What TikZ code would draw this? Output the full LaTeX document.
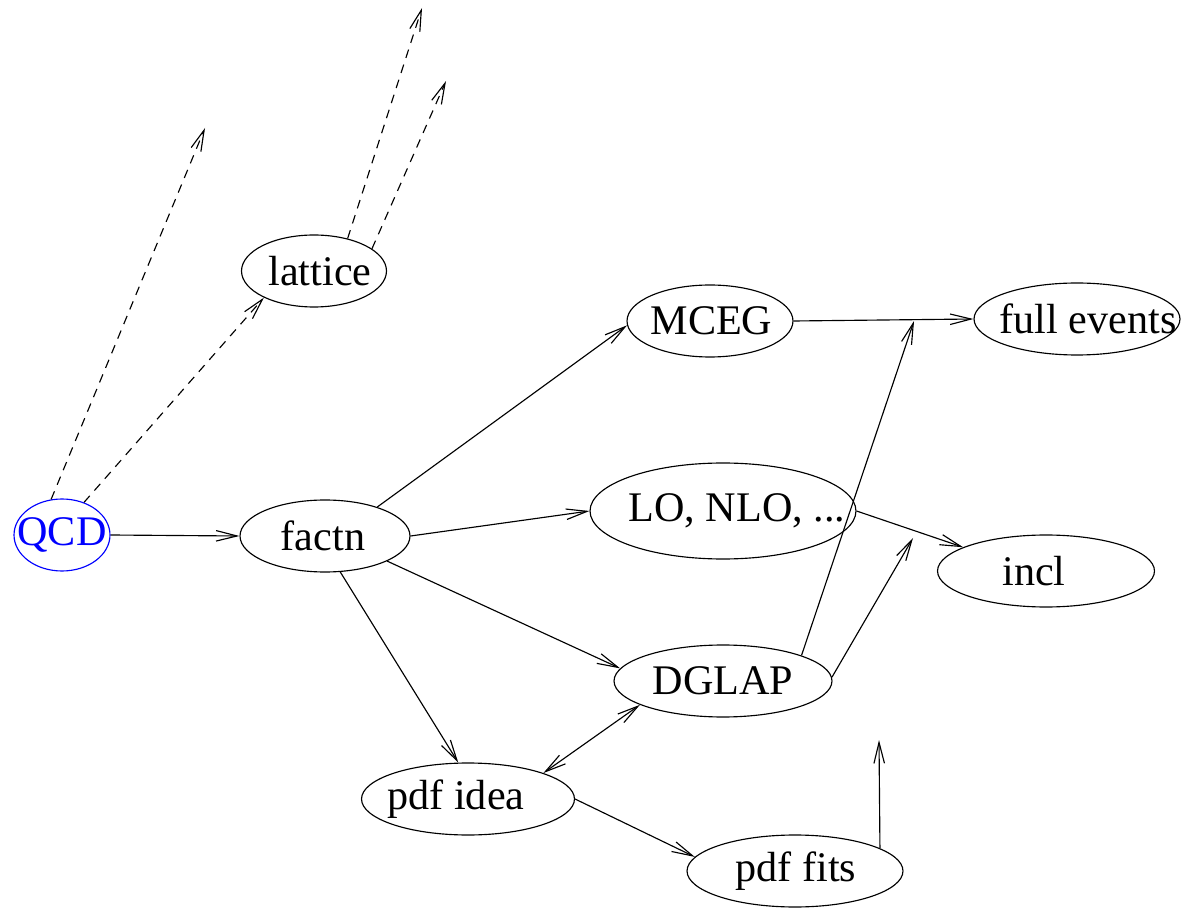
\documentclass[tikz,border=0pt]{standalone}
\usepackage{fontspec}
\setmainfont{Liberation Serif}
\usetikzlibrary{shapes.geometric,arrows.meta}
\definecolor{qblue}{RGB}{0,0,255}
\newcommand\tx[2]{\makebox[0pt]{\hspace{#1cm}#2}}
\begin{document}
\begin{tikzpicture}[x=0.02cm, y=-0.02cm,
  every path/.style={line width=0.65pt},
  >={Straight Barb[length=0.42cm, width=0.21cm]},
  ell/.style={draw, ellipse, inner sep=0pt, minimum height=1.44cm,
    font=\fontsize{24}{28}\selectfont},
  conn/.style={->},
  dconn/.style={->, dash pattern=on 5pt off 4pt}]
\useasboundingbox (0,0) rectangle (1196,911);

\node[ell, draw=qblue, text=qblue, minimum width=1.92cm] (QCD) at (62,535) {\tx{0}{QCD}};
\node[ell, minimum width=3.40cm] (factn) at (325,536) {\tx{-0.08}{factn}};
\node[ell, minimum width=2.90cm] (lattice) at (314,271) {\tx{0.24}{lattice}};
\node[ell, minimum width=3.32cm] (MCEG) at (710,321) {\tx{0.06}{MCEG}};
\node[ell, minimum width=4.12cm] (full) at (1077,319) {\tx{0.44}{full events}};
\node[ell, minimum width=5.32cm, minimum height=1.92cm] (LO) at (723,511) {\tx{0.56}{LO, NLO, ...}};
\node[ell, minimum width=4.34cm] (incl) at (1046,571) {\tx{-0.48}{incl}};
\node[ell, minimum width=4.36cm] (DGLAP) at (723,681) {\tx{0}{DGLAP}};
\node[ell, minimum width=4.26cm] (idea) at (468,799) {\tx{-0.48}{pdf idea}};
\node[ell, minimum width=4.32cm] (fits) at (795,871) {\tx{0.04}{pdf fits}};

\coordinate (qcdup) at (205,128);
\coordinate (latA) at (422,8);
\coordinate (latB) at (446,81);
\coordinate (j1) at (914,321);
\coordinate (j2) at (913,538);
\coordinate (fitsup) at (879,740);

% dashed connectors
\draw[dconn] (QCD.56) -- (lattice.208);
\draw[dconn] (QCD.107) -- (qcdup);
\draw[dconn] (lattice.44) -- (latA);
\draw[dconn] (lattice.21) -- (latB);

% solid connectors
\draw[conn] (QCD.east) -- (factn.west);
\draw[conn] (factn.29) -- (MCEG.183);
\draw[conn] (factn.east) -- (LO.west);
\draw[conn] (factn.-22) -- (DGLAP.173);
\draw[conn] (factn.-67) -- (idea.105);
\draw[conn] (MCEG.east) -- (full.west);
\draw[conn] (LO.east) -- (incl.164);
\draw[conn] (DGLAP.18) -- (j1);
\draw[conn] (DGLAP.2) -- (j2);
\draw[<->] (idea.19) -- (DGLAP.196);
\draw[conn] (idea.east) -- (fits.172);
\draw[conn] (fits.15) -- (fitsup);
\end{tikzpicture}
\end{document}
